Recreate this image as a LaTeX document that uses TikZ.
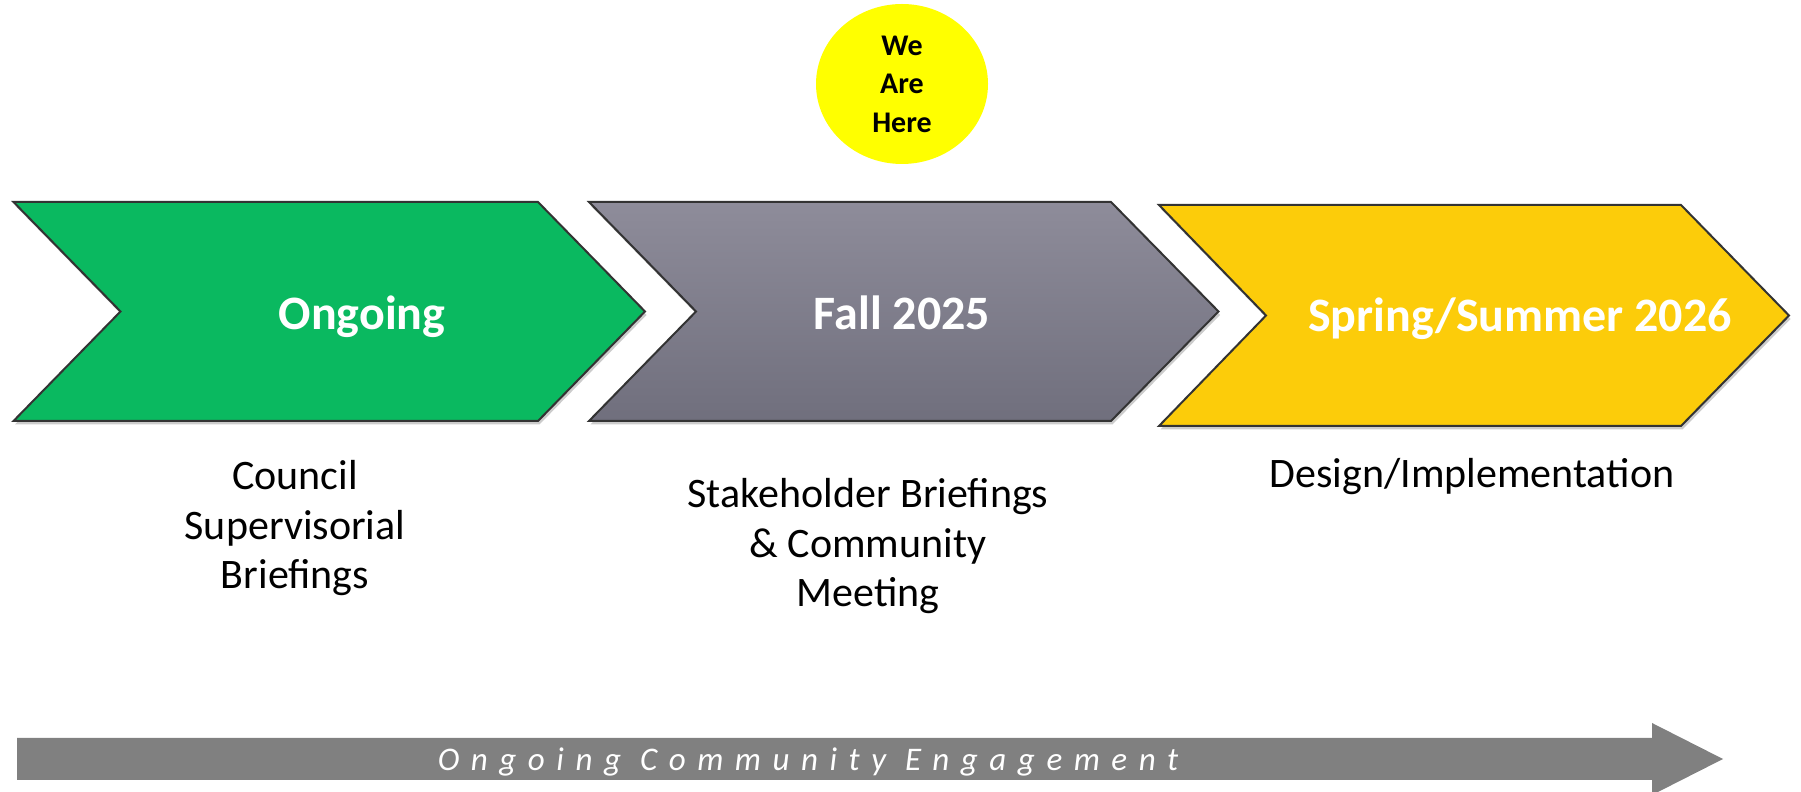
\documentclass[tikz,border=0pt]{standalone}
\usepackage{fontspec}
\setmainfont{Carlito}
\newfontfamily\engfont[LetterSpace=35]{Carlito}
\usetikzlibrary{shadows,shapes.geometric}
\definecolor{chgreen}{HTML}{0AB960}
\definecolor{chyellow}{HTML}{FCCC0A}
\definecolor{chgraytop}{HTML}{8E8C9A}
\definecolor{chgraybot}{HTML}{706F7D}
\definecolor{hereyellow}{HTML}{FFFF00}
\definecolor{barGray}{HTML}{808080}
\tikzset{
  chevron/.style={draw=black!80, line width=2pt, line join=miter,
    drop shadow={shadow xshift=1.5pt, shadow yshift=-3.5pt, opacity=0.2, fill=black}},
  headtext/.style={text=white, font=\fontsize{48}{56}\selectfont\bfseries, anchor=base, inner sep=0pt},
  subtext/.style={text=black, font=\fontsize{42}{49.5}\selectfont, align=center, anchor=base, inner sep=0pt},
  heretext/.style={text=black, font=\fontsize{30}{38.5}\selectfont\bfseries, align=center, inner sep=0pt},
}
\begin{document}
\begin{tikzpicture}[x=1pt,y=1pt]
\useasboundingbox (0,0) rectangle (1801,792);
% chevrons
\path[chevron, fill=chgreen]
  (13.5,590) -- (538,590) -- (645,480.5) -- (538,371) -- (13.5,371) -- (120.5,480.5) -- cycle;
\path[chevron, top color=chgraytop, bottom color=chgraybot]
  (589,590) -- (1111,590) -- (1218.5,480.5) -- (1111,371) -- (589,371) -- (696,480.5) -- cycle;
\path[chevron, fill=chyellow]
  (1159,587) -- (1681,587) -- (1789,476.5) -- (1681,366) -- (1159,366) -- (1266,476.5) -- cycle;
% chevron labels
\node[headtext] (ongoing) at (362,462) {Ongoing};
\node[headtext] (fall) at (902,462) {Fall 2025};
\node[headtext] (spring) at (1520,460) {Spring/Summer 2026};
% we are here
\node[ellipse, fill=hereyellow, minimum width=172pt, minimum height=160pt, inner sep=0pt] (here) at (902,708) {};
\node[heretext] (heretxt) at (here.center) {We\\Are\\Here};
% descriptions (base = baseline of last line)
\node[subtext] (council) at (295,203) {Council\\Supervisorial\\Briefings};
\node[subtext] (stake) at (868,185) {Stakeholder Briefings\\\& Community\\Meeting};
\node[subtext] (design) at (1472,304) {Design/Implementation};
% bottom arrow
\fill[barGray] (17,12) -- (1652,12) -- (1652,-3) -- (1723,33) -- (1652,69) -- (1652,54) -- (17,54) -- cycle;
\node[text=white, font=\fontsize{33}{38}\selectfont\engfont\itshape, anchor=base, inner sep=0pt] (engage) at (808,21) {Ongoing Community Engagement};
\end{tikzpicture}
\end{document}
